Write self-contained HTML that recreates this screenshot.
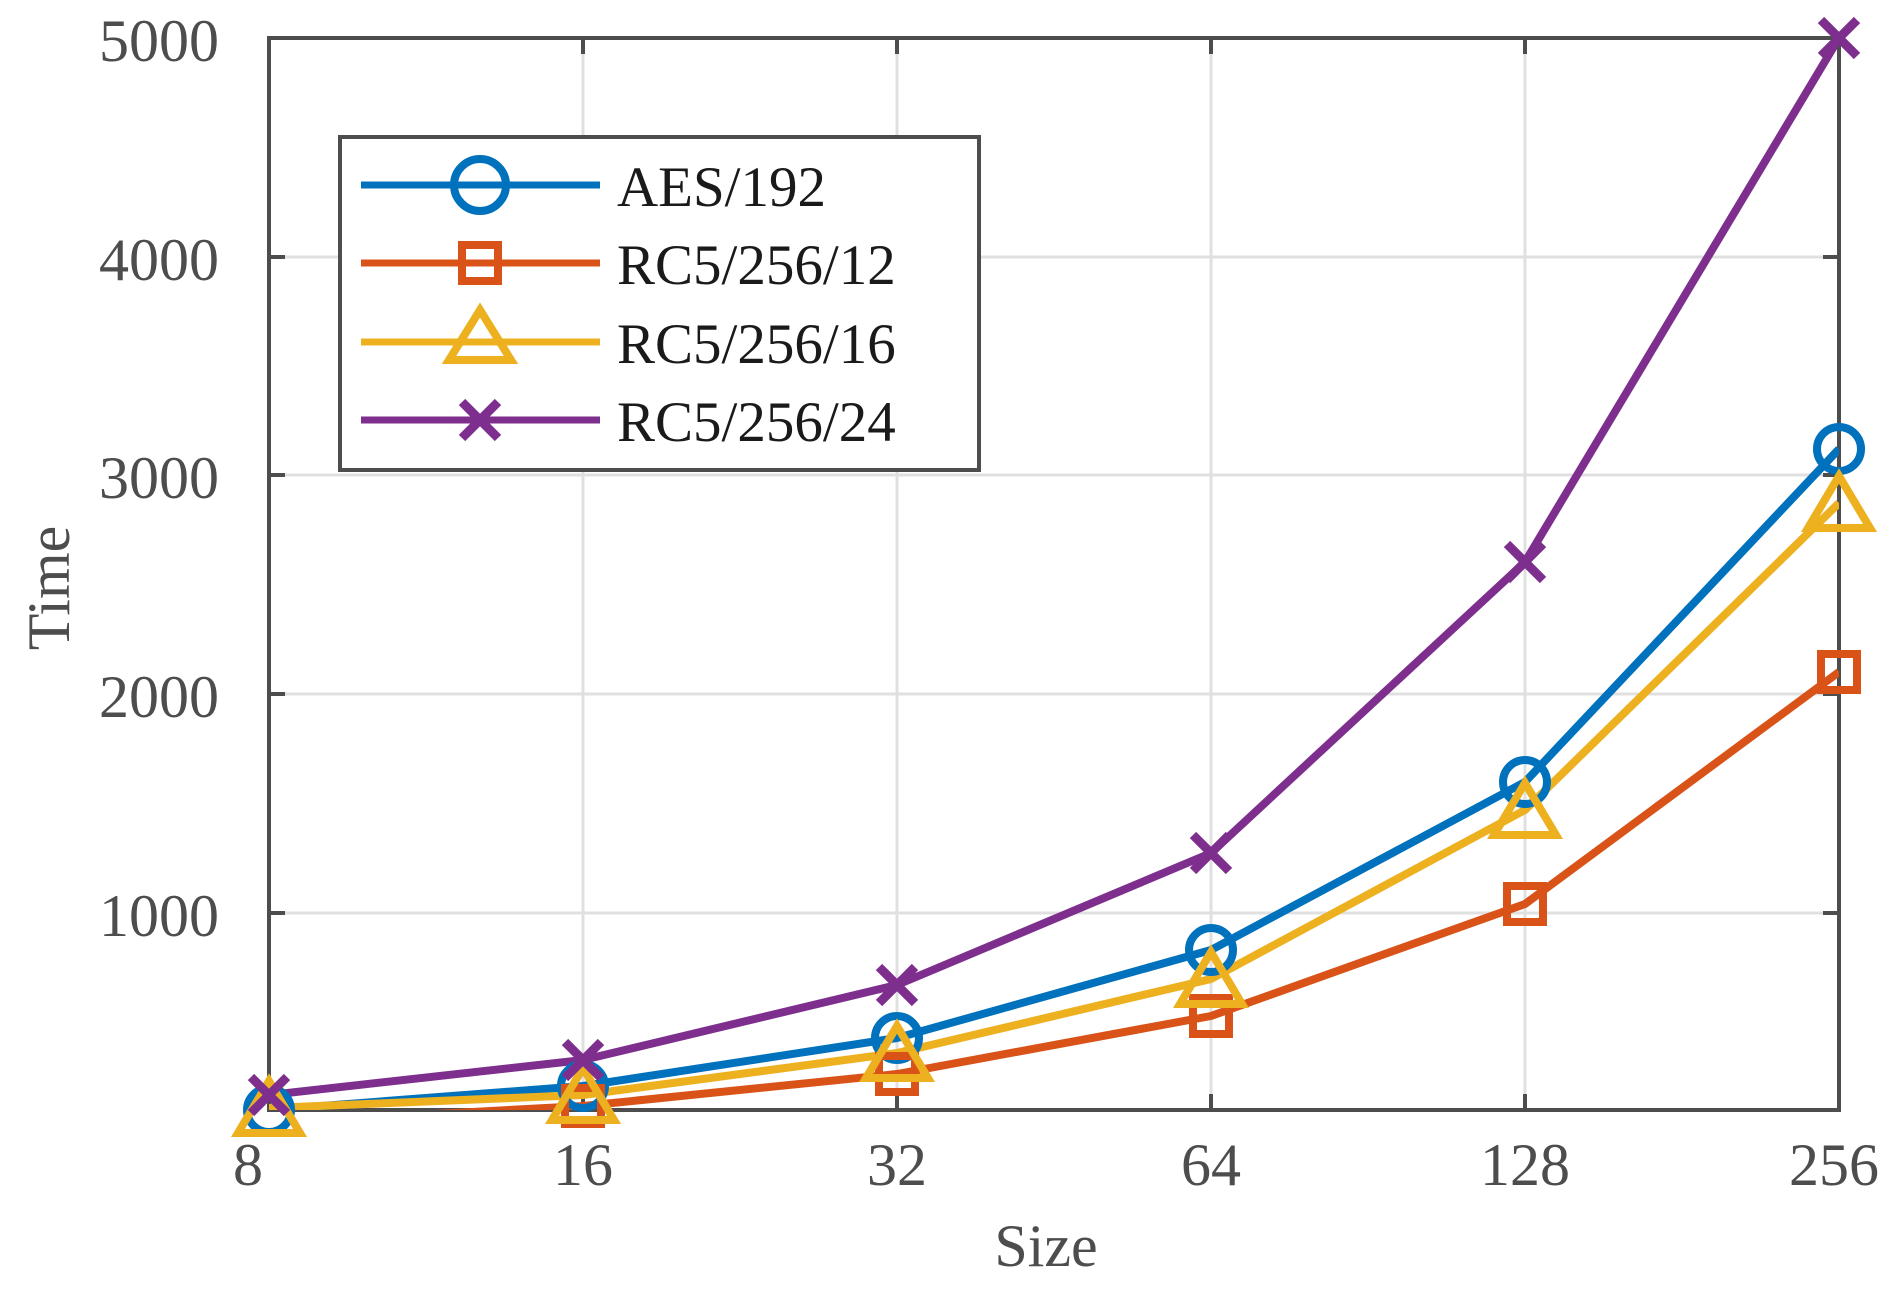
<!DOCTYPE html>
<html><head><meta charset="utf-8"><style>html,body{margin:0;padding:0;background:#fff}svg{display:block}</style></head>
<body>
<svg width="1900" height="1290" viewBox="0 0 1900 1290" xmlns="http://www.w3.org/2000/svg" font-family="'Liberation Serif', serif">
<defs><clipPath id="c"><rect x="269" y="38" width="1570" height="1072"/></clipPath></defs>
<rect width="1900" height="1290" fill="#fff"/>
<g stroke="#e0e0e0" stroke-width="3">
<line x1="583" y1="38" x2="583" y2="1110"/><line x1="897" y1="38" x2="897" y2="1110"/><line x1="1211" y1="38" x2="1211" y2="1110"/><line x1="1525" y1="38" x2="1525" y2="1110"/>
<line x1="269" y1="913" x2="1839" y2="913"/><line x1="269" y1="694" x2="1839" y2="694"/><line x1="269" y1="475" x2="1839" y2="475"/><line x1="269" y1="257" x2="1839" y2="257"/>
</g>
<g stroke="#4d4d4d" stroke-width="4">
<line x1="583" y1="1110" x2="583" y2="1094"/><line x1="897" y1="1110" x2="897" y2="1094"/><line x1="1211" y1="1110" x2="1211" y2="1094"/><line x1="1525" y1="1110" x2="1525" y2="1094"/>
<line x1="583" y1="38" x2="583" y2="54"/><line x1="897" y1="38" x2="897" y2="54"/><line x1="1211" y1="38" x2="1211" y2="54"/><line x1="1525" y1="38" x2="1525" y2="54"/>
<line x1="269" y1="913" x2="285" y2="913"/><line x1="269" y1="694" x2="285" y2="694"/><line x1="269" y1="475" x2="285" y2="475"/><line x1="269" y1="257" x2="285" y2="257"/>
<line x1="1839" y1="913" x2="1823" y2="913"/><line x1="1839" y1="694" x2="1823" y2="694"/><line x1="1839" y1="475" x2="1823" y2="475"/><line x1="1839" y1="257" x2="1823" y2="257"/>
<rect x="269" y="38" width="1570" height="1072" fill="none"/>
</g>
<g fill="#4d4d4d" font-size="60">
<g text-anchor="end">
<text x="219" y="61">5000</text><text x="219" y="280">4000</text><text x="219" y="498">3000</text><text x="219" y="717">2000</text><text x="219" y="936">1000</text>
</g>
<g text-anchor="middle">
<text x="248" y="1185">8</text><text x="583" y="1185">16</text><text x="897" y="1185">32</text><text x="1211" y="1185">64</text><text x="1525" y="1185">128</text><text x="1834" y="1185">256</text>
<text x="1046" y="1266">Size</text>
<text transform="translate(69,588) rotate(-90)">Time</text>
</g>
</g>
<g clip-path="url(#c)" fill="none" stroke-width="8" stroke-linejoin="round">
<polyline stroke="#0072bd" points="269,1110 583,1086 897,1038 1211,950 1525,782 1839,449"/>
<polyline stroke="#d95319" points="269,1123 583,1106 897,1074 1211,1016 1525,904 1839,672"/>
<polyline stroke="#edb120" points="269,1108 583,1095 897,1053 1211,979 1525,810 1839,503"/>
<polyline stroke="#7e2f8e" points="269,1095 583,1060 897,985 1211,853 1525,562 1839,38"/>
</g>
<g fill="none" stroke-width="8">
<g stroke="#0072bd"><circle cx="269" cy="1110" r="22"/><circle cx="583" cy="1086" r="22"/><circle cx="897" cy="1038" r="22"/><circle cx="1211" cy="950" r="22"/><circle cx="1525" cy="782" r="22"/><circle cx="1839" cy="449" r="22"/></g>
<g stroke="#d95319"><rect x="565" y="1088" width="36" height="36"/><rect x="879" y="1056" width="36" height="36"/><rect x="1193" y="998" width="36" height="36"/><rect x="1507" y="886" width="36" height="36"/><rect x="1821" y="654" width="36" height="36"/></g>
<g stroke="#edb120">
<polygon points="269,1081 238,1133 300,1133"/><polygon points="583,1068 552,1120 614,1120"/><polygon points="897,1026 866,1078 928,1078"/><polygon points="1211,952 1180,1004 1242,1004"/><polygon points="1525,783 1494,835 1556,835"/><polygon points="1839,476 1808,528 1870,528"/>
</g>
<g stroke="#7e2f8e" stroke-width="9">
<path d="M251,1077l36,36M287,1077l-36,36M565,1042l36,36M601,1042l-36,36M879,967l36,36M915,967l-36,36M1193,835l36,36M1229,835l-36,36M1507,544l36,36M1543,544l-36,36M1821,20l36,36M1857,20l-36,36"/>
</g>
</g>
<rect x="340" y="137" width="639" height="333" fill="#fff" stroke="#4d4d4d" stroke-width="4"/>
<g stroke-width="7" fill="none">
<line x1="361" y1="185" x2="600" y2="185" stroke="#0072bd"/><ellipse cx="480" cy="185" rx="26" ry="26" stroke="#0072bd" stroke-width="8"/>
<line x1="361" y1="263" x2="600" y2="263" stroke="#d95319"/><rect x="462" y="245" width="36" height="36" stroke="#d95319" stroke-width="8"/>
<line x1="361" y1="342" x2="600" y2="342" stroke="#edb120"/><polygon points="480,310 449,360 511,360" stroke="#edb120" stroke-width="8"/>
<line x1="361" y1="420" x2="600" y2="420" stroke="#7e2f8e"/><path d="M462,402l36,36M498,402l-36,36" stroke="#7e2f8e" stroke-width="9"/>
</g>
<g fill="#1a1a1a" font-size="57">
<text x="617" y="206">AES/192</text><text x="617" y="284">RC5/256/12</text><text x="617" y="363">RC5/256/16</text><text x="617" y="441">RC5/256/24</text>
</g>
</svg>
</body></html>
